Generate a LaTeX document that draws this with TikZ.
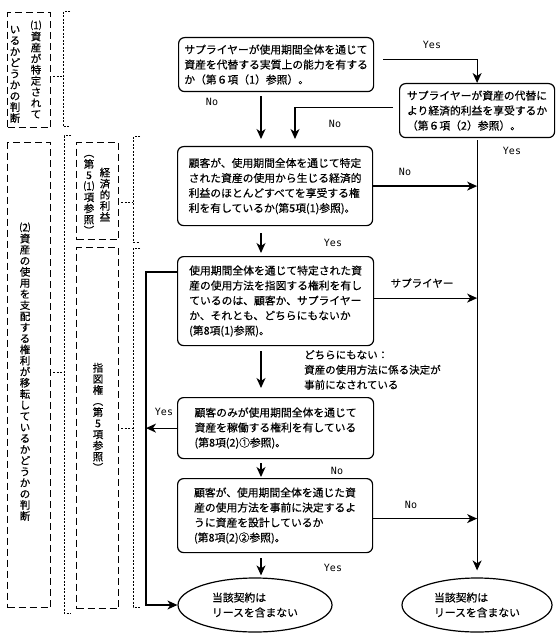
\documentclass[tikz,border=0pt]{standalone}
\usepackage{fontspec}
\setmainfont{Noto Sans CJK JP}[FakeBold=0.4]
\newfontfamily\ynfont{DejaVu Sans Mono}
\usetikzlibrary{arrows.meta, shapes.geometric, calc}

% vertical (tate) text: one glyph per line
\makeatletter
\newcommand\tate[1]{\vbox{\offinterlineskip\@tfor\tate@c:=#1\do{\hbox to 1em{\hss\tate@c\hss\vrule height .88em depth .12em width 0pt}\kern.6pt}}}
\makeatother

\tikzset{
  qbox/.style = {draw, rounded corners=6pt, line width=1.2pt, anchor=north west, align=left, inner xsep=4pt},
  endnode/.style = {draw, ellipse, line width=1.2pt, align=left, inner sep=0pt},
  flow/.style = {line width=1.2pt, -{Stealth[length=10pt, width=9pt, inset=3pt]}},
  judgebox/.style = {draw, line width=1.1pt, dash pattern=on 7pt off 4pt, anchor=north west, inner sep=0pt},
  bracket/.style = {line width=1pt, dash pattern=on 2pt off 1.5pt},
  yn/.style = {font=\ynfont\fontsize{10}{12}\selectfont},
  lbl/.style = {font=\fontsize{10.5}{15}\selectfont, align=left},
  tatetext/.style = {font=\fontsize{10.5}{12}\selectfont, inner sep=0pt},
}

\begin{document}
\begin{tikzpicture}[x=1pt, y=-1pt, font=\fontsize{10.8}{15}\selectfont]
		\useasboundingbox (0,0) rectangle (557,644);
		
		\coordinate (spine) at (261,0);
		\coordinate (spineB) at (295,0);
		\coordinate (rail) at (146,0);
		
		% question boxes
		\node[qbox, minimum width=195pt, minimum height=54pt] (A) at (178,37) {サプライヤーが使用期間全体を通じて\\資産を代替する実質上の能力を有する\\か（第６項（1）参照）。};
		\node[qbox, minimum width=155pt, minimum height=54pt] (B) at (399,83) {サプライヤーが資産の代替に\\より経済的利益を享受するか\\（第６項（2）参照）。};
		\node[qbox, minimum width=195pt, minimum height=79pt] (C) at (177,146) {顧客が、使用期間全体を通じて特定\\された資産の使用から生じる経済的\\利益のほとんどすべてを享受する権\\利を有しているか(第5項(1)参照)。};
		\node[qbox, minimum width=196pt, minimum height=89pt] (D) at (177,256) {使用期間全体を通じて特定された資\\産の使用方法を指図する権利を有し\\ているのは、顧客か、サプライヤー\\か、それとも、どちらにもないか\\(第8項(1)参照)。};
		\node[qbox, minimum width=196pt, minimum height=61pt] (E) at (177,397) {顧客のみが使用期間全体を通じて\\資産を稼働する権利を有している\\(第8項(2)①参照)。};
		\node[qbox, minimum width=195pt, minimum height=74pt] (F) at (177,478) {顧客が、使用期間全体を通じた資\\産の使用方法を事前に決定するよ\\うに資産を設計しているか\\(第8項(2)②参照)。};
		
		% end states
		\node[endnode, minimum width=154pt, minimum height=54pt] (noL) at (255,605) {当該契約は\\リースを含まない};
		\node[endnode, minimum width=150pt, minimum height=54pt] (noR) at (477,605) {当該契約は\\リースを含まない};
		
		% connectors
		\draw[flow] ([xshift=9pt,yshift=5pt]A.east) -| (B.north);
		\draw[flow, shorten <=4pt, shorten >=7pt] (A.south -| spine) -- (C.north -| spine);
		\draw[flow, shorten <=6pt, shorten >=7pt] ([yshift=3pt]B.west) -| (C.north -| spineB);
		\draw[flow, shorten <=2pt, shorten >=7pt] (B.south) -- (B.south |- noR.north);
		\draw[flow] (C.east) -- (C.east -| B.south);
		\draw[flow, shorten <=7pt, shorten >=3pt] (C.south -| spine) -- (D.north -| spine);
		\draw[flow] ([yshift=3pt]D.east) -- ([yshift=3pt]D.east -| B.south);
		\draw[flow, shorten <=5pt, shorten >=9pt] (D.south -| spine) -- (E.north -| spine);
		\draw[flow] ([yshift=-16pt]D.north west) -| (rail |- noL.west) -- (noL.west);
		\draw[flow] (E.west) -- (E.west -| rail);
		\draw[flow, shorten <=4pt, shorten >=1pt] (E.south -| spine) -- (F.north -| spine);
		\draw[flow] ([yshift=-3pt]F.east) -- ([yshift=-3pt]F.east -| B.south);
		\draw[flow, shorten <=5pt, shorten >=2pt] (F.south -| spine) -- (noL.north -| spine);
		
		% branch labels
		\node[yn] (yAB) at (432,45) {Yes};
		\node[yn] (nAC) at (212,102) {No};
		\node[yn] (nBC) at (335,124) {No};
		\node[yn] (yB) at (512,151) {Yes};
		\node[yn] (nC) at (405,172) {No};
		\node[yn] (yC) at (333,243) {Yes};
		\node[lbl] (sD) at (422,283) {サプライヤー};
		\node[lbl, anchor=north west, inner sep=0pt] (dD) at (304,350) {どちらにもない：\\資産の使用方法に係る決定が\\事前になされている};
		\node[yn] (yE) at (164,412) {Yes};
		\node[yn] (nE) at (337,471) {No};
		\node[yn] (nF) at (411,505) {No};
		\node[yn] (yF) at (333,568) {Yes};
		
		% judgement columns on the left
		\node[judgebox, minimum width=43pt, minimum height=115pt] (q1) at (7,12) {};
		\node[tatetext] (q1r) at (36,70) {\tate{{⑴}資産が特定されて}};
		\node[tatetext] (q1l) at (15,74) {\tate{いるかどうかの判断}};
		\node[judgebox, minimum width=43pt, minimum height=465pt] (q2) at (7,142) {};
		\node[tatetext] (q2t) at (25,372) {\tate{{⑵}資産の使用を支配する権利が移転しているかどうかの判断}};
		\node[judgebox, minimum width=42pt, minimum height=97pt] (eco) at (76,142) {};
		\node[tatetext] (ecor) at (105,195) {\tate{経済的利益}};
		\node[tatetext] (ecol) at (89,192) {\tate{︵第5{⑴}項参照︶}};
		\node[judgebox, minimum width=42pt, minimum height=361pt] (dir) at (76,247) {};
		\node[tatetext] (dirt) at (98,418) {\tate{指図権︵第5項参照︶}};
		
		% brackets
		\coordinate (br1) at (63,77);
		\coordinate (br2) at (64,372);
		\coordinate (br3) at (133,203);
		\coordinate (br4) at (133,428);
		\draw[bracket] (70,12) -- (63,12) -- (63,127) -- (70,127);
		\draw[bracket] (71,136) -- (64,136) -- (64,613) -- (71,613);
		\draw[bracket] (140,137) -- (133,137) -- (133,242) -- (140,242);
		\draw[bracket] (140,248) -- (133,248) -- (133,607) -- (140,607);
		\draw[bracket, shorten <=2pt] (q1.east |- br1) -- (br1);
		\draw[bracket, shorten <=2pt] (q2.east |- br2) -- (br2);
		\draw[bracket, shorten <=2pt] (eco.east |- br3) -- (br3);
		\draw[bracket, shorten <=2pt] (dir.east |- br4) -- (br4);
	\end{tikzpicture}
\end{document}
